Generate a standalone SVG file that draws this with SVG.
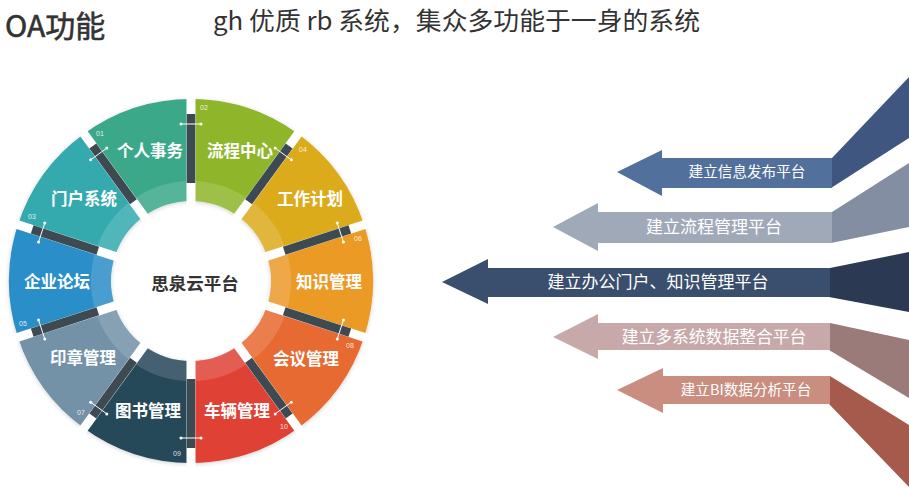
<svg xmlns="http://www.w3.org/2000/svg" width="909" height="500" viewBox="0 0 909 500">
<defs>
<style>
.seg-label{font-family:"Noto Sans CJK SC","Liberation Sans",sans-serif;font-weight:bold;font-size:16.5px;fill:#fff;text-anchor:middle}
.num{font-family:"Liberation Sans","Noto Sans",sans-serif;font-size:7px;fill:#fff;fill-opacity:.85;text-anchor:middle}
.band{fill:#fff;fill-opacity:.14}
.spoke{stroke:#fff;stroke-width:9}
.bar{stroke:#3e4a52;stroke-width:8.5}
.mark{stroke:#fff;stroke-width:1;fill:none}
.dot{fill:#fff}
.arrow-text{font-family:"Noto Sans CJK SC","Liberation Sans",sans-serif;fill:#fff;text-anchor:middle}
</style>
<filter id="sh" x="-10%" y="-10%" width="120%" height="120%">
<feDropShadow dx="0" dy="1" stdDeviation="2" flood-color="#000" flood-opacity=".18"/>
</filter>
</defs>
<rect width="909" height="500" fill="#fff"/>

<text x="5" y="37" font-family="Noto Sans CJK SC,Liberation Sans,sans-serif" font-size="30" fill="#333" stroke="#333" stroke-width="0.6">OA功能</text>
<text x="213" y="30" font-family="Noto Sans CJK SC,Liberation Sans,sans-serif" font-size="25" fill="#333" textLength="487" lengthAdjust="spacingAndGlyphs">gh 优质 rb 系统，集众多功能于一身的系统</text>

<g id="ring" filter="url(#sh)">
<g id="seg-02">
<path d="M191,99 A182,182 0 0 1 297.98,133.76 L238.02,216.28 A80,80 0 0 0 191,201 Z" fill="#8fb62a"/>
<path class="band" d="M191,181 A100,100 0 0 1 249.78,200.10 L238.02,216.28 A80,80 0 0 0 191,201 Z"/>
</g>
<g id="seg-04">
<path d="M297.98,133.76 A182,182 0 0 1 364.10,224.76 L267.09,256.28 A80,80 0 0 0 238.02,216.28 Z" fill="#dcab1d"/>
<path class="band" d="M249.78,200.10 A100,100 0 0 1 286.11,250.10 L267.09,256.28 A80,80 0 0 0 238.02,216.28 Z"/>
</g>
<g id="seg-06">
<path d="M364.10,224.76 A182,182 0 0 1 364.10,337.24 L267.09,305.72 A80,80 0 0 0 267.09,256.28 Z" fill="#ec9a28"/>
<path class="band" d="M286.11,250.10 A100,100 0 0 1 286.11,311.90 L267.09,305.72 A80,80 0 0 0 267.09,256.28 Z"/>
</g>
<g id="seg-08">
<path d="M364.10,337.24 A182,182 0 0 1 297.98,428.24 L238.02,345.72 A80,80 0 0 0 267.09,305.72 Z" fill="#e76b32"/>
<path class="band" d="M286.11,311.90 A100,100 0 0 1 249.78,361.90 L238.02,345.72 A80,80 0 0 0 267.09,305.72 Z"/>
</g>
<g id="seg-10">
<path d="M297.98,428.24 A182,182 0 0 1 191,463 L191,361 A80,80 0 0 0 238.02,345.72 Z" fill="#df4336"/>
<path class="band" d="M249.78,361.90 A100,100 0 0 1 191,381 L191,361 A80,80 0 0 0 238.02,345.72 Z"/>
</g>
<g id="seg-09">
<path d="M191,463 A182,182 0 0 1 84.02,428.24 L143.98,345.72 A80,80 0 0 0 191,361 Z" fill="#27485a"/>
<path class="band" d="M191,381 A100,100 0 0 1 132.22,361.90 L143.98,345.72 A80,80 0 0 0 191,361 Z"/>
</g>
<g id="seg-07">
<path d="M84.02,428.24 A182,182 0 0 1 17.90,337.24 L114.91,305.72 A80,80 0 0 0 143.98,345.72 Z" fill="#7392a8"/>
<path class="band" d="M132.22,361.90 A100,100 0 0 1 95.89,311.90 L114.91,305.72 A80,80 0 0 0 143.98,345.72 Z"/>
</g>
<g id="seg-05">
<path d="M17.90,337.24 A182,182 0 0 1 17.90,224.76 L114.91,256.28 A80,80 0 0 0 114.91,305.72 Z" fill="#2a8fc8"/>
<path class="band" d="M95.89,311.90 A100,100 0 0 1 95.89,250.10 L114.91,256.28 A80,80 0 0 0 114.91,305.72 Z"/>
</g>
<g id="seg-03">
<path d="M17.90,224.76 A182,182 0 0 1 84.02,133.76 L143.98,216.28 A80,80 0 0 0 114.91,256.28 Z" fill="#35aaae"/>
<path class="band" d="M95.89,250.10 A100,100 0 0 1 132.22,200.10 L143.98,216.28 A80,80 0 0 0 114.91,256.28 Z"/>
</g>
<g id="seg-01">
<path d="M84.02,133.76 A182,182 0 0 1 191,99 L191,201 A80,80 0 0 0 143.98,216.28 Z" fill="#3aa88a"/>
<path class="band" d="M132.22,200.10 A100,100 0 0 1 191,181 L191,201 A80,80 0 0 0 143.98,216.28 Z"/>
</g>
</g>

<g id="separators">
<line class="spoke" x1="191" y1="205" x2="191" y2="95"/>
<line class="spoke" x1="235.67" y1="219.52" x2="300.33" y2="130.53"/>
<line class="spoke" x1="263.28" y1="257.52" x2="367.90" y2="223.53"/>
<line class="spoke" x1="263.28" y1="304.48" x2="367.90" y2="338.47"/>
<line class="spoke" x1="235.67" y1="342.48" x2="300.33" y2="431.47"/>
<line class="spoke" x1="191" y1="357" x2="191" y2="467"/>
<line class="spoke" x1="146.33" y1="342.48" x2="81.67" y2="431.47"/>
<line class="spoke" x1="118.72" y1="304.48" x2="14.10" y2="338.47"/>
<line class="spoke" x1="118.72" y1="257.52" x2="14.10" y2="223.53"/>
<line class="spoke" x1="146.33" y1="219.52" x2="81.67" y2="130.53"/>

<line class="bar" x1="191" y1="183" x2="191" y2="114"/>
<line class="bar" x1="248.60" y1="201.72" x2="289.16" y2="145.90"/>
<line class="bar" x1="284.21" y1="250.72" x2="349.83" y2="229.40"/>
<line class="bar" x1="284.21" y1="311.28" x2="349.83" y2="332.60"/>
<line class="bar" x1="248.60" y1="360.28" x2="289.16" y2="416.10"/>
<line class="bar" x1="191" y1="379" x2="191" y2="448"/>
<line class="bar" x1="133.40" y1="360.28" x2="92.84" y2="416.10"/>
<line class="bar" x1="97.79" y1="311.28" x2="32.17" y2="332.60"/>
<line class="bar" x1="97.79" y1="250.72" x2="32.17" y2="229.40"/>
<line class="bar" x1="133.40" y1="201.72" x2="92.84" y2="145.90"/>

<line class="mark" x1="181" y1="124" x2="201" y2="124"/>
<line class="mark" x1="275.19" y1="148.11" x2="291.37" y2="159.87"/>
<line class="mark" x1="337.23" y1="222.98" x2="343.41" y2="242.00"/>
<line class="mark" x1="343.41" y1="320.00" x2="337.23" y2="339.02"/>
<line class="mark" x1="291.37" y1="402.13" x2="275.19" y2="413.89"/>
<line class="mark" x1="201" y1="438" x2="181" y2="438"/>
<line class="mark" x1="106.81" y1="413.89" x2="90.63" y2="402.13"/>
<line class="mark" x1="44.77" y1="339.02" x2="38.59" y2="320.00"/>
<line class="mark" x1="38.59" y1="242.00" x2="44.77" y2="222.98"/>
<line class="mark" x1="90.63" y1="159.87" x2="106.81" y2="148.11"/>
<g class="dot">
<circle cx="181" cy="124" r="1.5"/><circle cx="201" cy="124" r="1.5"/>
<circle cx="275.19" cy="148.11" r="1.5"/><circle cx="291.37" cy="159.87" r="1.5"/>
<circle cx="337.23" cy="222.98" r="1.5"/><circle cx="343.41" cy="242.00" r="1.5"/>
<circle cx="343.41" cy="320.00" r="1.5"/><circle cx="337.23" cy="339.02" r="1.5"/>
<circle cx="291.37" cy="402.13" r="1.5"/><circle cx="275.19" cy="413.89" r="1.5"/>
<circle cx="201" cy="438" r="1.5"/><circle cx="181" cy="438" r="1.5"/>
<circle cx="106.81" cy="413.89" r="1.5"/><circle cx="90.63" cy="402.13" r="1.5"/>
<circle cx="44.77" cy="339.02" r="1.5"/><circle cx="38.59" cy="320.00" r="1.5"/>
<circle cx="38.59" cy="242.00" r="1.5"/><circle cx="44.77" cy="222.98" r="1.5"/>
<circle cx="90.63" cy="159.87" r="1.5"/><circle cx="106.81" cy="148.11" r="1.5"/>
</g>
</g>

<g id="labels">
<text class="seg-label" x="150" y="157">个人事务</text>
<text class="seg-label" x="240" y="157">流程中心</text>
<text class="seg-label" x="310" y="205">工作计划</text>
<text class="seg-label" x="329" y="288">知识管理</text>
<text class="seg-label" x="306" y="365">会议管理</text>
<text class="seg-label" x="237" y="417">车辆管理</text>
<text class="seg-label" x="148" y="417">图书管理</text>
<text class="seg-label" x="83" y="364">印章管理</text>
<text class="seg-label" x="57" y="288">企业论坛</text>
<text class="seg-label" x="84" y="205">门户系统</text>
<text class="num" x="100" y="136">01</text>
<text class="num" x="204" y="110">02</text>
<text class="num" x="32" y="219">03</text>
<text class="num" x="303" y="152">04</text>
<text class="num" x="23" y="326">05</text>
<text class="num" x="358" y="241">06</text>
<text class="num" x="81" y="415">07</text>
<text class="num" x="350" y="348">08</text>
<text class="num" x="177" y="456">09</text>
<text class="num" x="284" y="429">10</text>
</g>

<g id="center">
<text x="195" y="289.5" font-family="Noto Sans CJK SC,Liberation Sans,sans-serif" font-weight="bold" font-size="17.5" fill="#333" text-anchor="middle">思泉云平台</text>
</g>

<g id="arrow-1">
<polygon points="832,158 909,77 909,138 831,188" fill="#3f5680"/>
<polygon points="617,172 662,150 662,158 832,158 832,188 662,188 662,196" fill="#52709c"/>
<text class="arrow-text" x="747" y="177" font-size="14.6">建立信息发布平台</text>
</g>
<g id="arrow-2">
<polygon points="832,212 909,163 909,227 831,243" fill="#838ea2"/>
<polygon points="553,227 598,203 598,212 832,212 832,243 598,243 598,251" fill="#9fa9b8"/>
<text class="arrow-text" x="714" y="233" font-size="17">建立流程管理平台</text>
</g>
<g id="arrow-3">
<polygon points="830,268 909,252 909,312 829,297" fill="#2b3a52"/>
<polygon points="442,282 488,259 488,268 830,268 830,297 488,297 488,304" fill="#3a4e6e"/>
<text class="arrow-text" x="658" y="288" font-size="17">建立办公门户、知识管理平台</text>
</g>
<g id="arrow-4">
<polygon points="830,323 909,340 909,398 829,350" fill="#9b7a7a"/>
<polygon points="553,337 598,314 598,323 830,323 830,350 598,350 598,359" fill="#c8a9a9"/>
<text class="arrow-text" x="714" y="343" font-size="16.8">建立多系统数据整合平台</text>
</g>
<g id="arrow-5">
<polygon points="830,376 909,425 909,487 829,404" fill="#a65a4b"/>
<polygon points="617,390 663,368 663,376 830,376 830,404 663,404 663,413" fill="#c98e80"/>
<text class="arrow-text" x="746" y="395" font-size="14.6">建立BI数据分析平台</text>
</g>
</svg>
